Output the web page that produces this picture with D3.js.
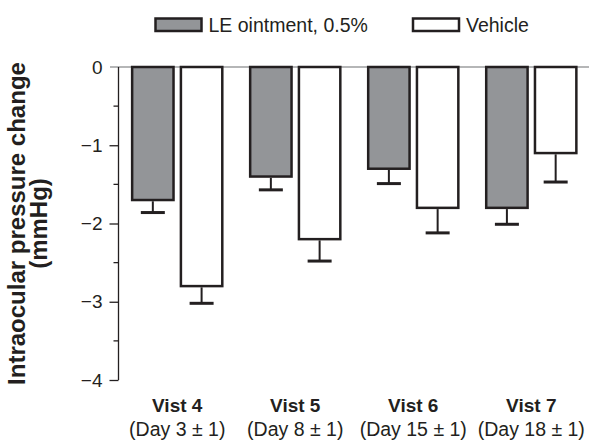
<!DOCTYPE html>
<html>
<head>
<meta charset="utf-8">
<script src="https://cdn.jsdelivr.net/npm/d3@7"></script>
<style>
  html, body { margin: 0; padding: 0; background: #fff; }
  svg { display: block; font-family: "Liberation Sans", Arial, sans-serif; }
</style>
</head>
<body>
<svg id="chart" width="589" height="443"></svg>
<script>
// Mean change in intraocular pressure from baseline, by visit
const visits = ["Vist 4", "Vist 5", "Vist 6", "Vist 7"];
const visitDays = ["(Day 3 \u00b1 1)", "(Day 8 \u00b1 1)", "(Day 15 \u00b1 1)", "(Day 18 \u00b1 1)"];
const seriesNames = ["LE ointment, 0.5%", "Vehicle"];
const leMeans = [-1.7, -1.4, -1.3, -1.8];
const leErrors = [0.16, 0.17, 0.19, 0.21];
const vehicleMeans = [-2.8, -2.2, -1.8, -1.1];
const vehicleErrors = [0.22, 0.28, 0.32, 0.37];
const yTicks = [0, -1, -2, -3, -4];
const yMinorTicks = [-0.5, -1.5, -2.5, -3.5];

const ink = "#231f20";
const fills = { "LE ointment, 0.5%": "#939598", "Vehicle": "#ffffff" };

const rows = visits.map((v, i) => ({
  visit: v,
  day: visitDays[i],
  bars: [
    { series: seriesNames[0], value: leMeans[i], err: leErrors[i] },
    { series: seriesNames[1], value: vehicleMeans[i], err: vehicleErrors[i] }
  ]
}));

const svg = d3.select("#chart");
const axisX = 118.5;
const y = d3.scaleLinear().domain([0, -4]).range([67, 380]);
const x0 = d3.scaleBand().domain(visits).range([axisX, 590]).paddingInner(0.215).paddingOuter(0.105);
const x1 = d3.scaleBand().domain(seriesNames).range([0, x0.bandwidth()]).paddingInner(0.1);

const sw = 2.5;

// Zero reference line
svg.append("line")
  .attr("x1", 110).attr("x2", 589)
  .attr("y1", y(0)).attr("y2", y(0))
  .attr("stroke", "#6d6e71").attr("stroke-width", 1.2);

// Bars
const groups = svg.append("g").selectAll("g").data(rows).join("g")
  .attr("transform", d => `translate(${x0(d.visit)},0)`);

groups.selectAll("rect").data(d => d.bars).join("rect")
  .attr("x", d => x1(d.series) + sw / 2)
  .attr("width", x1.bandwidth() - sw)
  .attr("y", y(0))
  .attr("height", d => y(d.value) - y(0))
  .attr("fill", d => fills[d.series])
  .attr("stroke", ink).attr("stroke-width", sw);

// Error bars (downward)
const eb = groups.selectAll("g.err").data(d => d.bars).join("g").attr("class", "err");
eb.append("line")
  .attr("x1", d => x1(d.series) + x1.bandwidth() / 2)
  .attr("x2", d => x1(d.series) + x1.bandwidth() / 2)
  .attr("y1", d => y(d.value) + sw / 2)
  .attr("y2", d => y(d.value - d.err))
  .attr("stroke", ink).attr("stroke-width", 2);
eb.append("line")
  .attr("x1", d => x1(d.series) + x1.bandwidth() / 2 - 12)
  .attr("x2", d => x1(d.series) + x1.bandwidth() / 2 + 12)
  .attr("y1", d => y(d.value - d.err))
  .attr("y2", d => y(d.value - d.err))
  .attr("stroke", ink).attr("stroke-width", 3);

// Y axis
const yAxis = svg.append("g").attr("transform", `translate(${axisX},0)`)
  .call(d3.axisLeft(y).tickValues(yTicks).tickSize(9).tickPadding(7)
    .tickFormat(d => d === 0 ? "0" : "\u2212" + Math.abs(d)));
yAxis.select(".domain").attr("stroke", ink).attr("stroke-width", 1.3)
  .attr("d", `M0,${y(0)}V${y(-4)}`);
yAxis.selectAll(".tick line").attr("stroke", ink).attr("stroke-width", 1.3);
yAxis.selectAll(".tick text").attr("fill", ink).attr("font-size", 19)
  .attr("font-family", "Liberation Sans, Arial, sans-serif");
yAxis.selectAll(".tick").filter(d => d === 0).select("line").attr("stroke", "none");

svg.append("g").selectAll("line").data(yMinorTicks).join("line")
  .attr("x1", axisX - 5).attr("x2", axisX)
  .attr("y1", d => y(d)).attr("y2", d => y(d))
  .attr("stroke", ink).attr("stroke-width", 1.3);

// X labels
const xl = svg.append("g").selectAll("g").data(rows).join("g")
  .attr("transform", d => `translate(${x0(d.visit) + x0.bandwidth() / 2},0)`);
xl.append("text").attr("y", 412).attr("text-anchor", "middle")
  .attr("font-size", 19).attr("font-weight", "bold").attr("fill", ink)
  .text(d => d.visit);
xl.append("text").attr("y", 436).attr("text-anchor", "middle")
  .attr("font-size", 19.5).attr("fill", ink)
  .text(d => d.day);

// Y title
const yt = svg.append("text")
  .attr("transform", `translate(0,${(y(0) + y(-4)) / 2}) rotate(-90)`)
  .attr("text-anchor", "middle").attr("font-weight", "bold")
  .attr("font-size", 24).attr("fill", ink);
yt.append("tspan").attr("x", 0).attr("y", 25).text("Intraocular pressure change");
yt.append("tspan").attr("x", 0).attr("y", 47).text("(mmHg)");

// Legend
const legendX = [155.5, 413];
const lg = svg.append("g").selectAll("g").data(seriesNames).join("g")
  .attr("transform", (d, i) => `translate(${legendX[i]},18.5)`);
lg.append("rect").attr("width", 46).attr("height", 12.5)
  .attr("fill", d => fills[d]).attr("stroke", ink).attr("stroke-width", 2.5);
lg.append("text").attr("x", 53).attr("y", 13).attr("font-size", 19.5).attr("fill", ink)
  .text(d => d);
</script>
</body>
</html>
